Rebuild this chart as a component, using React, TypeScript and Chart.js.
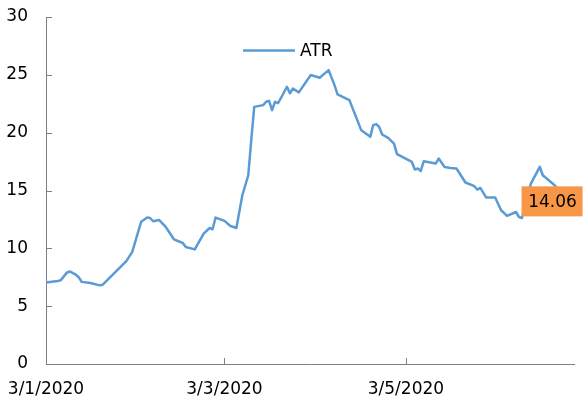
import React, { useEffect, useRef } from "react";
import { Chart, registerables } from "chart.js";

Chart.register(...registerables);

// Days since 3 Jan 2020 (axis labels are d/m/yyyy)
const days = [
  0, 2, 4, 5, 7, 8, 10, 11, 12, 15, 18, 19, 27, 29, 32, 34, 35, 36, 38, 40,
  41, 43, 46, 47, 50, 53, 55, 56, 57, 60, 62, 64, 66, 68, 69, 70, 73, 74, 75,
  76, 77, 78, 79, 81, 82, 83, 85, 89, 92, 95, 97, 98, 102, 106, 109, 110, 111,
  112, 113, 115, 117, 118, 123, 124, 125, 126, 127, 131, 132, 134, 136, 138,
  141, 144, 145, 146, 148, 151, 153, 155, 158, 159, 160, 163, 166, 167, 171,
  173, 175,
];
const atr = [
  7.05, 7.12, 7.17, 7.25, 7.9, 8.0, 7.72, 7.5, 7.1, 7.0, 6.8, 6.85, 8.9, 9.7,
  12.3, 12.66, 12.62, 12.34, 12.45, 11.93, 11.56, 10.78, 10.46, 10.11, 9.91,
  11.27, 11.76, 11.65, 12.66, 12.37, 11.93, 11.76, 14.59, 16.32, 19.35, 22.23,
  22.38, 22.67, 22.75, 21.95, 22.67, 22.55, 23.0, 23.97, 23.4, 23.82, 23.48,
  24.98, 24.75, 25.41, 24.11, 23.31, 22.81, 20.2, 19.64, 20.65, 20.74, 20.5,
  19.84, 19.55, 19.06, 18.15, 17.47, 16.81, 16.9, 16.69, 17.53, 17.33, 17.76,
  17.04, 16.95, 16.9, 15.69, 15.37, 15.08, 15.22, 14.39, 14.39, 13.29, 12.8,
  13.14, 12.71, 12.62, 15.6, 17.04, 16.32, 15.45, 14.8, 14.06,
];
const tickDays = [0, 60, 121];
const tickLabels = ["3/1/2020", "3/3/2020", "3/5/2020"];
const yTicks = [0, 5, 10, 15, 20, 25, 30];
const seriesName = "ATR";
const lastLabel = "14.06";

const FONT = "DejaVu Sans";
const LINE = "#5B9BD5";
const AXIS = "#7f7f7f";

const decorPlugin = {
  id: "decor",
  afterDraw(chart: any) {
    const ctx = chart.ctx;
    const xs = chart.scales.x;
    const ys = chart.scales.y;
    const area = chart.chartArea;
    ctx.save();
    // inside tick marks
    ctx.strokeStyle = AXIS;
    ctx.lineWidth = 1;
    ctx.beginPath();
    yTicks.forEach((v) => {
      const y = Math.round(ys.getPixelForValue(v)) + 0.5;
      ctx.moveTo(area.left, y);
      ctx.lineTo(area.left + 6, y);
    });
    tickDays.forEach((d) => {
      const x = Math.round(xs.getPixelForValue(d)) + 0.5;
      ctx.moveTo(x, area.bottom);
      ctx.lineTo(x, area.bottom - 6);
    });
    ctx.stroke();

    // legend
    ctx.strokeStyle = LINE;
    ctx.lineWidth = 2.5;
    ctx.beginPath();
    ctx.moveTo(243, 50.5);
    ctx.lineTo(295, 50.5);
    ctx.stroke();
    ctx.fillStyle = "#000";
    ctx.font = `17px "${FONT}"`;
    ctx.textAlign = "left";
    ctx.textBaseline = "middle";
    ctx.fillText(seriesName, 300, 52);

    // last value label
    const meta = chart.getDatasetMeta(0);
    const pt = meta.data[meta.data.length - 1];
    const bx = pt.x - 45;
    const by = pt.y - 15;
    ctx.fillStyle = "#F79646";
    ctx.fillRect(bx, by, 61, 30);
    ctx.fillStyle = "#000";
    ctx.textAlign = "center";
    ctx.fillText(lastLabel, bx + 31, pt.y + 1);
    ctx.restore();
  },
};

const zeroPad = (scale: any) => {
  scale.paddingTop = 0;
  scale.paddingBottom = 0;
  scale.paddingLeft = 0;
  scale.paddingRight = 0;
};

export default function App() {
  const ref = useRef<HTMLCanvasElement | null>(null);
  useEffect(() => {
    if (!ref.current) return;
    const chart = new Chart(ref.current, {
      type: "line",
      data: {
        datasets: [
          {
            label: seriesName,
            data: days.map((d, i) => ({ x: d, y: atr[i] })),
            borderColor: LINE,
            backgroundColor: LINE,
            borderWidth: 2.5,
            pointRadius: 0,
            tension: 0,
            borderJoinStyle: "round",
          },
        ],
      },
      options: {
        animation: false,
        responsive: false,
        layout: { padding: { top: 17, right: 9, left: 0, bottom: 0 } },
        plugins: { legend: { display: false }, tooltip: { enabled: false } },
        scales: {
          x: {
            type: "linear",
            min: 0,
            max: 177.5,
            grid: { display: false, drawTicks: false },
            border: { color: AXIS, width: 1 },
            afterBuildTicks: (scale: any) => {
              scale.ticks = tickDays.map((v) => ({ value: v }));
            },
            afterFit: (scale: any) => {
              scale.height = 39;
              zeroPad(scale);
            },
            ticks: {
              autoSkip: false,
              maxRotation: 0,
              padding: 15,
              color: "#000",
              font: { family: FONT, size: 17 },
              callback: (v: any) => {
                const i = tickDays.indexOf(Number(v));
                return i >= 0 ? tickLabels[i] : "";
              },
            },
          },
          y: {
            min: 0,
            max: 30,
            grid: { display: false, drawTicks: false },
            border: { color: AXIS, width: 1 },
            afterFit: (scale: any) => {
              scale.width = 46;
              zeroPad(scale);
            },
            ticks: {
              stepSize: 5,
              padding: 18,
              color: "#000",
              font: { family: FONT, size: 17 },
            },
          },
        },
      },
      plugins: [decorPlugin],
    });
    return () => chart.destroy();
  }, []);
  return (
    <div style={{ position: "fixed", left: 0, top: 0, width: 583, height: 403, background: "#fff" }}>
      <canvas ref={ref} width={583} height={403} style={{ display: "block" }} />
    </div>
  );
}
